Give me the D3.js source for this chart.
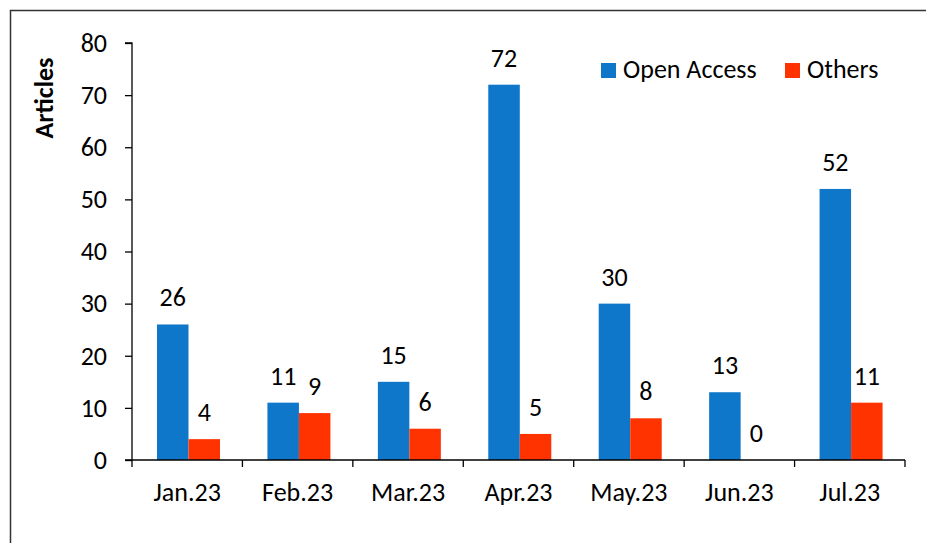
<!DOCTYPE html>
<html><head><meta charset="utf-8">
<script src="https://cdn.jsdelivr.net/npm/d3@7"></script>
<style>body{margin:0;background:#fff}svg{display:block}</style>
</head><body>
<script>
const categories = ["Jan.23","Feb.23","Mar.23","Apr.23","May.23","Jun.23","Jul.23"];
const seriesNames = ["Open Access","Others"];
const openAccess = [26,11,15,72,30,13,52];
const others = [4,9,6,5,8,0,11];
const yTicks = [0,10,20,30,40,50,60,70,80];
const colors = ["#0E77CA","#FF3300"];

(function(){
const W=926,H=543;
const font="Carlito, 'Liberation Sans', 'Open Sans', sans-serif";
const fs=26;
const svg=d3.select("body").append("svg").attr("width",W).attr("height",H);
svg.append("rect").attr("x",10.5).attr("y",10.5).attr("width",W+20).attr("height",H+20)
  .attr("fill","none").attr("stroke","#333").attr("stroke-width",1.5);

const pLeft=132,pRight=905,pTop=43,pBottom=460;
const x=d3.scaleBand().domain(categories).range([pLeft,pRight]);
const y=d3.scaleLinear().domain([0,80]).range([pBottom,pTop]);
const barW=31.5, off=25;
const data=categories.map((c,i)=>({c,vals:[openAccess[i],others[i]]}));

const g=svg.append("g");
data.forEach(d=>{
  d.vals.forEach((v,j)=>{
    const bx=x(d.c)+off+j*barW;
    g.append("rect").attr("x",bx).attr("y",y(v)).attr("width",barW).attr("height",pBottom-y(v)).attr("fill",colors[j]);
    g.append("text").attr("x",bx+barW/2).attr("y",y(v)-18).attr("text-anchor","middle")
      .attr("font-family",font).attr("font-size",fs).attr("fill","#000").text(v);
  });
});

const ya=svg.append("g").attr("transform",`translate(${pLeft},0)`)
  .call(d3.axisLeft(y).tickValues(yTicks).tickSize(7).tickPadding(18));
ya.select(".domain").attr("d",`M-7,${pTop}H0V${pBottom}`).attr("stroke","#000").attr("stroke-width",1.3);
ya.selectAll(".tick line").attr("stroke","#000").attr("stroke-width",1.3);
ya.selectAll("text").attr("font-family",font).attr("font-size",fs).attr("fill","#000");

const xa=svg.append("g").attr("transform",`translate(0,${pBottom})`)
  .call(d3.axisBottom(x).tickSize(0).tickPadding(23));
xa.select(".domain").attr("d",`M${pLeft-7},0H${pRight}`).attr("stroke","#000").attr("stroke-width",1.3);
xa.selectAll("text").attr("font-family",font).attr("font-size",fs).attr("fill","#000");
const bounds=[...categories.map(c=>x(c)),pRight];
svg.append("g").selectAll("line").data(bounds).join("line")
  .attr("x1",d=>d).attr("x2",d=>d).attr("y1",pBottom).attr("y2",pBottom+7)
  .attr("stroke","#000").attr("stroke-width",1.3);

svg.append("text").attr("transform",`translate(53,98) rotate(-90)`)
  .attr("text-anchor","middle").attr("font-family",font).attr("font-size",fs).attr("font-weight","bold").text("Articles");

const lx=[601,785];
seriesNames.forEach((n,i)=>{
  svg.append("rect").attr("x",lx[i]).attr("y",63).attr("width",15).attr("height",15).attr("fill",colors[i]);
  svg.append("text").attr("x",lx[i]+22).attr("y",78).attr("font-family",font).attr("font-size",fs).attr("fill","#000").text(n);
});
})();
</script>
</body></html>
